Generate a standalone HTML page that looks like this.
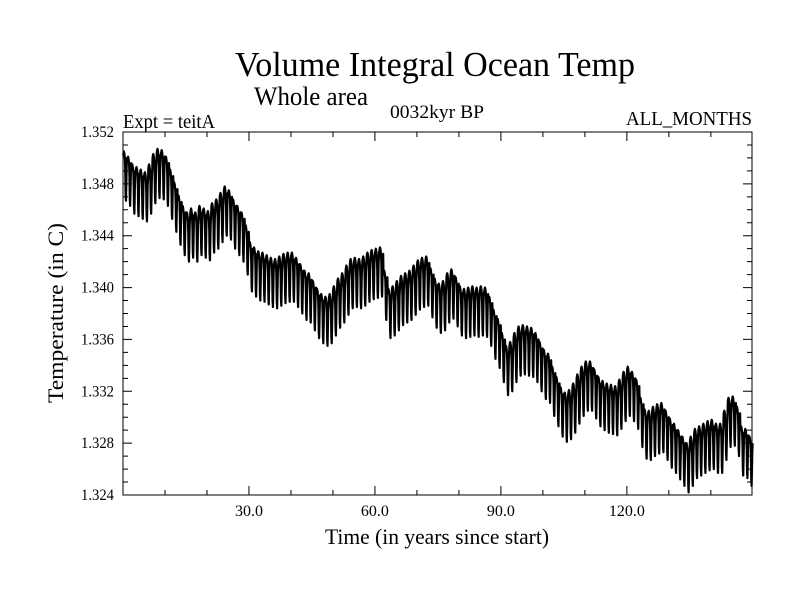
<!DOCTYPE html>
<html><head><meta charset="utf-8"><style>
html,body{margin:0;padding:0;background:#fff;}
svg{display:block;font-family:"Liberation Serif",serif;}
</style></head><body>
<svg id="chart" width="800" height="600" xmlns="http://www.w3.org/2000/svg">
<rect width="800" height="600" fill="#fff"/>
<text x="435" y="76" font-size="35" text-anchor="middle" textLength="400" lengthAdjust="spacingAndGlyphs">Volume Integral Ocean Temp</text>
<text x="254" y="105" font-size="26" textLength="114" lengthAdjust="spacingAndGlyphs">Whole area</text>
<text x="123" y="128" font-size="20" textLength="92" lengthAdjust="spacingAndGlyphs">Expt = teitA</text>
<text x="390" y="118" font-size="19" textLength="94" lengthAdjust="spacingAndGlyphs">0032kyr BP</text>
<text x="626" y="125" font-size="20" textLength="126" lengthAdjust="spacingAndGlyphs">ALL_MONTHS</text>
<text transform="translate(63,313) rotate(-90)" font-size="22" text-anchor="middle" textLength="180" lengthAdjust="spacingAndGlyphs">Temperature (in C)</text>
<text x="437" y="544" font-size="22" text-anchor="middle" textLength="224" lengthAdjust="spacingAndGlyphs">Time (in years since start)</text>
<g id="axes"></g>
<g id="series"></g>
</svg>
<script>
// yearly upper-envelope temperature values (years 0..149)
const yearTop = [
1.3502,1.3498,1.3492,1.3490,1.3488,1.3486,1.3492,1.3500,1.3504,1.3503,
1.3498,1.3488,1.3478,1.3468,1.3460,1.3455,1.3458,1.3455,1.3460,1.3458,
1.3456,1.3462,1.3465,1.3470,1.3475,1.3472,1.3465,1.3460,1.3455,1.3445,
1.3432,1.3428,1.3425,1.3424,1.3422,1.3420,1.3419,1.3421,1.3423,1.3424,
1.3424,1.3420,1.3415,1.3410,1.3408,1.3402,1.3396,1.3392,1.3390,1.3392,
1.3398,1.3404,1.3408,1.3414,1.3419,1.3420,1.3419,1.3421,1.3424,1.3426,
1.3427,1.3428,1.3410,1.3396,1.3398,1.3402,1.3406,1.3408,1.3410,1.3414,
1.3418,1.3420,1.3421,1.3412,1.3404,1.3400,1.3402,1.3408,1.3411,1.3405,
1.3398,1.3396,1.3397,1.3398,1.3397,1.3398,1.3397,1.3390,1.3380,1.3373,
1.3362,1.3352,1.3355,1.3362,1.3367,1.3368,1.3367,1.3366,1.3362,1.3355,
1.3349,1.3346,1.3336,1.3328,1.3320,1.3316,1.3318,1.3323,1.3330,1.3336,
1.3340,1.3340,1.3334,1.3328,1.3325,1.3323,1.3322,1.3321,1.3326,1.3332,
1.3336,1.3332,1.3326,1.3312,1.3303,1.3302,1.3305,1.3307,1.3308,1.3302,
1.3296,1.3292,1.3287,1.3282,1.3277,1.3282,1.3288,1.3290,1.3292,1.3294,
1.3295,1.3292,1.3292,1.3302,1.3312,1.3313,1.3305,1.3290,1.3288,1.3282];
// monthly seasonal offsets relative to yearly top
const seasonal = [0,0.0002,0.0003,0.0002,0,-0.0003,-0.0012,-0.0030,-0.0035,-0.0022,-0.0008,-0.0002];
const yTicks = ["1.352","1.348","1.344","1.340","1.336","1.332","1.328","1.324"];
const xTicks = ["30.0","60.0","90.0","120.0"];

const X0=123,X1=752,Y0=132,Y1=495;
const xMin=0,xMax=149.8,yMin=1.324,yMax=1.352;
const xs=v=>X0+(v-xMin)/(xMax-xMin)*(X1-X0);
const ys=v=>Y1-(v-yMin)/(yMax-yMin)*(Y1-Y0);
const NS="http://www.w3.org/2000/svg";
const axes=document.getElementById('axes');
function mk(tag,attrs,parent){const e=document.createElementNS(NS,tag);for(const k in attrs)e.setAttribute(k,attrs[k]);parent.appendChild(e);return e;}

const frame=mk('rect',{x:X0,y:Y0,width:X1-X0,height:Y1-Y0,fill:'none',stroke:'#000','stroke-width':1},axes);



for(let i=0;i<=28;i++){
  const v=yMin+i*0.001, y=ys(v), major=i%4===0, L=major?9:5;
  const t=mk('path',{d:`M${X0} ${y}h${L}M${X1} ${y}h${-L}`,stroke:'#000','stroke-width':1},axes);
  
  
}
yTicks.forEach(s=>{
  const t=mk('text',{x:X0-9,y:ys(parseFloat(s))+5,'font-size':16,'text-anchor':'end',textLength:33,lengthAdjust:'spacingAndGlyphs'},axes);
  t.textContent=s;
  
  
});
for(let v=10;v<xMax;v+=10){
  const x=xs(v), major=v%30===0, L=major?9:5;
  const t=mk('path',{d:`M${x} ${Y1}v${-L}M${x} ${Y0}v${L}`,stroke:'#000','stroke-width':1},axes);
  
  
}
xTicks.forEach(s=>{
  const t=mk('text',{x:xs(parseFloat(s)),y:Y1+21,'font-size':16,'text-anchor':'middle'},axes);
  t.textContent=s;
  
  
});
let d='';
yearTop.forEach((top,yr)=>{
  seasonal.forEach((off,m)=>{
    const t=yr+(m+0.5)/12;
    d+=(d?'L':'M')+xs(t).toFixed(2)+' '+ys(top+off).toFixed(2);
  });
});
const line=mk('path',{d:d,fill:'none',stroke:'#000','stroke-width':2.2,'stroke-linejoin':'round'},document.getElementById('series'));


</script>
</body></html>
